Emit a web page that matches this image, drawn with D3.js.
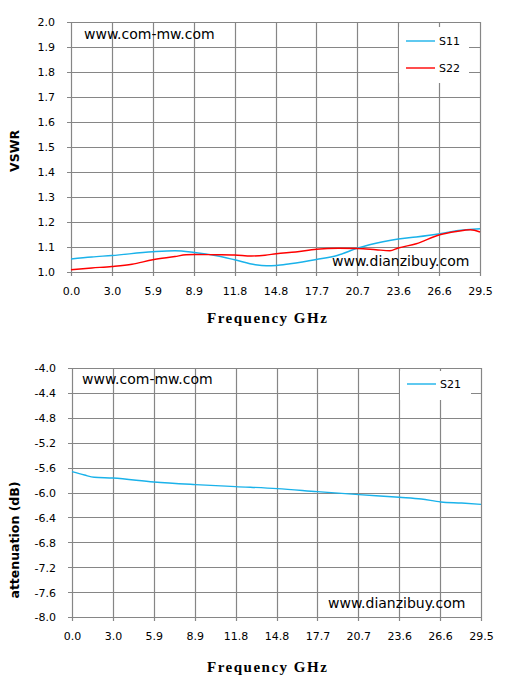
<!DOCTYPE html>
<html>
<head>
<meta charset="utf-8">
<script src="https://cdn.jsdelivr.net/npm/d3@7"></script>
<style>
  body { margin: 0; background: #fff; }
  svg { display: block; }
  .tick text { font-family: "DejaVu Sans", sans-serif; font-size: 11px; fill: #000; }
</style>
</head>
<body>
<div id="chart"></div>
<script>
// x axis: ten equal steps from 0 to 29.5 GHz
const freqTicks = [0, 2.95, 5.9, 8.85, 11.8, 14.75, 17.7, 20.65, 23.6, 26.55, 29.5];
const freqLabels = ["0.0", "3.0", "5.9", "8.9", "11.8", "14.8", "17.7", "20.7", "23.6", "26.6", "29.5"];

const vswrTicks = [1.0, 1.1, 1.2, 1.3, 1.4, 1.5, 1.6, 1.7, 1.8, 1.9, 2.0];
const attTicks = [-8.0, -7.6, -7.2, -6.8, -6.4, -6.0, -5.6, -5.2, -4.8, -4.4, -4.0];

// S11
const s11Freq = [0, 1.5, 2.95, 5.9, 7.5, 8.9, 10.4, 11.8, 13.3, 14.1, 14.8, 15.8, 17.7, 19.2, 20.7, 22.5, 23.6, 24.9, 26.6, 27.8, 29.5];
const s11Vswr = [1.052, 1.060, 1.066, 1.081, 1.085, 1.078, 1.066, 1.049, 1.029, 1.025, 1.026, 1.033, 1.050, 1.066, 1.096, 1.121, 1.132, 1.140, 1.153, 1.165, 1.173];

// S22
const s22Freq = [0, 1.5, 2.95, 4.4, 5.9, 7.5, 8.3, 8.9, 10.4, 11.8, 13.0, 14.0, 14.8, 16.2, 17.7, 19.3, 20.7, 22.0, 23.0, 23.6, 24.9, 26.6, 27.8, 28.8, 29.5];
const s22Vswr = [1.009, 1.016, 1.022, 1.031, 1.049, 1.062, 1.069, 1.070, 1.069, 1.068, 1.064, 1.067, 1.073, 1.080, 1.091, 1.095, 1.094, 1.089, 1.085, 1.096, 1.113, 1.149, 1.162, 1.169, 1.160];

// S21
const s21Freq = [0, 0.9, 1.6, 2.95, 5.9, 8.9, 11.8, 14.8, 17.7, 20.7, 23.6, 25.2, 26.6, 28.1, 29.5];
const s21Att = [-5.664, -5.719, -5.756, -5.767, -5.831, -5.873, -5.905, -5.937, -5.986, -6.034, -6.077, -6.104, -6.152, -6.169, -6.190];

const W = 514, H = 688;
const svg = d3.select("#chart").append("svg").attr("width", W).attr("height", H);

const gridColor = "#868686";

function panel(opt) {
  const x = d3.scaleLinear().domain([0, 29.5]).range([opt.left, opt.right]);
  const y = d3.scaleLinear().domain(opt.yDomain).range([opt.bottom, opt.top]);
  const g = svg.append("g");

  // grid
  g.selectAll(".hgrid").data(opt.yTicks).enter().append("line")
    .attr("x1", opt.left - 4).attr("x2", opt.right)
    .attr("y1", d => Math.round(y(d)) + 0.5).attr("y2", d => Math.round(y(d)) + 0.5)
    .attr("stroke", gridColor).attr("stroke-width", 1.2);
  g.selectAll(".vgrid").data(freqTicks).enter().append("line")
    .attr("x1", d => Math.round(x(d)) + 0.5).attr("x2", d => Math.round(x(d)) + 0.5)
    .attr("y1", opt.top).attr("y2", opt.bottom + 4)
    .attr("stroke", gridColor).attr("stroke-width", 1.2);

  // axes (labels only, lines are the grid)
  const xAxis = g.append("g")
    .attr("transform", `translate(0,${opt.bottom})`)
    .call(d3.axisBottom(x).tickValues(freqTicks).tickFormat((d, i) => freqLabels[i]).tickSize(0).tickPadding(15));
  xAxis.select(".domain").remove();

  const yAxis = g.append("g")
    .attr("transform", `translate(${opt.left},0)`)
    .call(d3.axisLeft(y).tickValues(opt.yTicks).tickFormat(d => d.toFixed(1)).tickSize(0).tickPadding(16));
  yAxis.select(".domain").remove();
  yAxis.selectAll(".tick text").attr("dy", "0.36em");

  // legend box covers the grid
  g.append("rect")
    .attr("x", opt.legend.x).attr("y", opt.legend.y)
    .attr("width", opt.legend.w).attr("height", opt.legend.h)
    .attr("fill", "#fff");

  const line = d3.line().x(d => x(d[0])).y(d => y(d[1])).curve(d3.curveMonotoneX);
  opt.series.forEach((s, i) => {
    g.append("path")
      .datum(s.freq.map((f, j) => [f, s.val[j]]))
      .attr("d", line)
      .attr("fill", "none")
      .attr("stroke", s.color)
      .attr("stroke-width", 1.4);

    const ly = opt.legend.y + opt.legend.rowY[i];
    g.append("line")
      .attr("x1", opt.legend.x + 7).attr("x2", opt.legend.x + 36)
      .attr("y1", ly).attr("y2", ly)
      .attr("stroke", s.color).attr("stroke-width", 1.4);
    g.append("text")
      .attr("x", opt.legend.x + 40).attr("y", ly + 4)
      .attr("font-family", "DejaVu Sans, sans-serif").attr("font-size", 11)
      .text(s.name);
  });

  // watermarks
  opt.marks.forEach(m => {
    g.append("text")
      .attr("x", m.x).attr("y", m.y)
      .attr("font-family", "DejaVu Sans, sans-serif").attr("font-size", 14)
      .text(m.text);
  });

  // axis titles
  g.append("text")
    .attr("x", 207).attr("y", opt.xTitleY)
    .attr("font-family", "Liberation Serif, DejaVu Serif, serif")
    .attr("font-weight", "bold").attr("font-size", 15)
    .attr("letter-spacing", "1.5px")
    .text("Frequency GHz");

  g.append("text")
    .attr("transform", `translate(19,${opt.yTitleY}) rotate(-90)`)
    .attr("text-anchor", "middle")
    .attr("font-family", "DejaVu Sans, sans-serif")
    .attr("font-weight", "bold").attr("font-size", 12.5)
    .text(opt.yTitle);
}

panel({
  left: 71, right: 480, top: 22, bottom: 272,
  yDomain: [1.0, 2.0], yTicks: vswrTicks,
  legend: { x: 399, y: 27, w: 70, h: 56, rowY: [14, 41] },
  series: [
    { name: "S11", freq: s11Freq, val: s11Vswr, color: "#1AB2EA" },
    { name: "S22", freq: s22Freq, val: s22Vswr, color: "#FF0000" }
  ],
  marks: [
    { text: "www.com-mw.com", x: 84, y: 39 },
    { text: "www.dianzibuy.com", x: 332, y: 266 }
  ],
  xTitleY: 323, yTitle: "VSWR", yTitleY: 151
});

panel({
  left: 72, right: 481, top: 368, bottom: 617,
  yDomain: [-8.0, -4.0], yTicks: attTicks,
  legend: { x: 400, y: 371, w: 71, h: 29, rowY: [13] },
  series: [
    { name: "S21", freq: s21Freq, val: s21Att, color: "#1AB2EA" }
  ],
  marks: [
    { text: "www.com-mw.com", x: 82, y: 384 },
    { text: "www.dianzibuy.com", x: 328, y: 608 }
  ],
  xTitleY: 672, yTitle: "attenuation (dB)", yTitleY: 540
});
</script>
</body>
</html>
